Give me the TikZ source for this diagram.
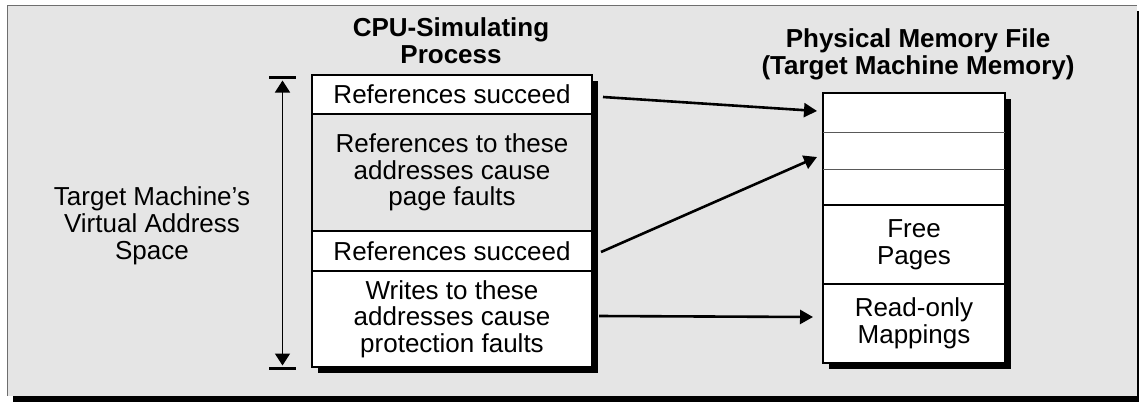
\documentclass[tikz,border=0pt]{standalone}
\usepackage{fontspec}
\setmainfont{Liberation Sans}
\usetikzlibrary{arrows.meta,calc}
\definecolor{panel}{HTML}{E5E5E5}
\definecolor{rim}{HTML}{6E6E6E}
\pgfdeclarelayer{back}
\pgfdeclarelayer{shade}
\pgfsetlayers{back,shade,main}
\tikzset{
  txt/.style={font=\fontsize{26}{26.7}\selectfont, align=center},
  ttl/.style={font=\fontsize{26}{26.7}\selectfont\bfseries, align=center},
  cell/.style={txt, fill=white, inner sep=0pt, outer sep=0pt, anchor=north west},
  cpucell/.style={cell, minimum width=280pt},
  memcell/.style={cell, minimum width=182pt},
  frame/.style={draw=black, line width=1.3pt},
  thin/.style={draw=black!65, line width=0.9pt},
  link/.style={line width=2.6pt, -{Triangle[length=13pt,width=14pt]}},
  span/.style={line width=1.6pt, {Triangle[length=12pt,width=15pt]}-{Triangle[length=12pt,width=15pt]}},
  bar/.style={line width=2.6pt}
}
\begin{document}
\begin{tikzpicture}[x=1pt,y=-1pt]
\useasboundingbox (0,0) rectangle (1139,402);

% outer panel with its drop shadow
\begin{pgfonlayer}{back}
  \fill[black] (13,11) rectangle (1139,402);
  \fill[panel] (7,5) rectangle (1137,396);
  \draw[rim, line width=0.8pt] (7,396) -- (7,5) -- (1137,5);
\end{pgfonlayer}

% titles
\node[ttl] (cputitle) at (451,40.5) {CPU-Simulating\\Process};
\node[ttl] (memtitle) at (918,54.2) {Physical Memory File\\(Target Machine Memory)};

% CPU-simulating process address space
\node[cpucell, minimum height=39pt] (s1) at (312,75) {References succeed};
\node[cpucell, minimum height=117pt, fill=panel] (s2) at (s1.south west) {References to these\\addresses cause\\page faults};
\node[cpucell, minimum height=40pt] (s3) at (s2.south west) {References succeed};
\node[cpucell, minimum height=96pt] (s4) at (s3.south west) {Writes to these\\addresses cause\\protection faults};
\draw[frame] (s1.north west) rectangle (s4.south east);
\draw[frame] (s1.south west) -- (s1.south east);
\draw[frame] (s2.south west) -- (s2.south east);
\draw[frame] (s3.south west) -- (s3.south east);

% physical memory file
\node[memcell, minimum height=39pt] (m1) at (823,93) {};
\node[memcell, minimum height=37pt] (m2) at (m1.south west) {};
\node[memcell, minimum height=36pt] (m3) at (m2.south west) {};
\node[memcell, minimum height=79pt] (m4) at (m3.south west) {Free\\Pages};
\node[memcell, minimum height=79pt] (m5) at (m4.south west) {Read-only\\Mappings};
\draw[frame] (m1.north west) rectangle (m5.south east);
\draw[thin] (m1.south west) -- (m1.south east);
\draw[thin] (m2.south west) -- (m2.south east);
\draw[frame] (m3.south west) -- (m3.south east);
\draw[frame] (m4.south west) -- (m4.south east);

% box shadows
\begin{pgfonlayer}{shade}
  \fill[black] ($(s1.north west)+(6,6)$) rectangle ($(s4.south east)+(6,6)$);
  \fill[black] ($(m1.north west)+(6,6)$) rectangle ($(m5.south east)+(6,6)$);
\end{pgfonlayer}

% mappings between the two
\draw[link] ($(s1.east)+(11,2.5)$) -- ($(m1.west)+(-6,-1.5)$);
\draw[link] ($(s3.east)+(9,1)$) -- ($(m2.west)+(-6,6.5)$);
\draw[link] ($(s4.east)+(7,-3)$) -- ($(m5.west)+(-10,-6.5)$);

% extent of the virtual address space
\coordinate (vtop) at (282.5,77.5);
\coordinate (vbot) at (282.5,368.5);
\draw[bar] ($(vtop)+(-13.5,0)$) -- ($(vtop)+(13.5,0)$);
\draw[bar] ($(vbot)+(-13.5,0)$) -- ($(vbot)+(13.5,0)$);
\draw[span, shorten <=3pt, shorten >=3pt] (vtop) -- (vbot);
\node[txt] (vas) at (152,225.6) {Target Machine’s\\Virtual Address\\Space};
\end{tikzpicture}
\end{document}
